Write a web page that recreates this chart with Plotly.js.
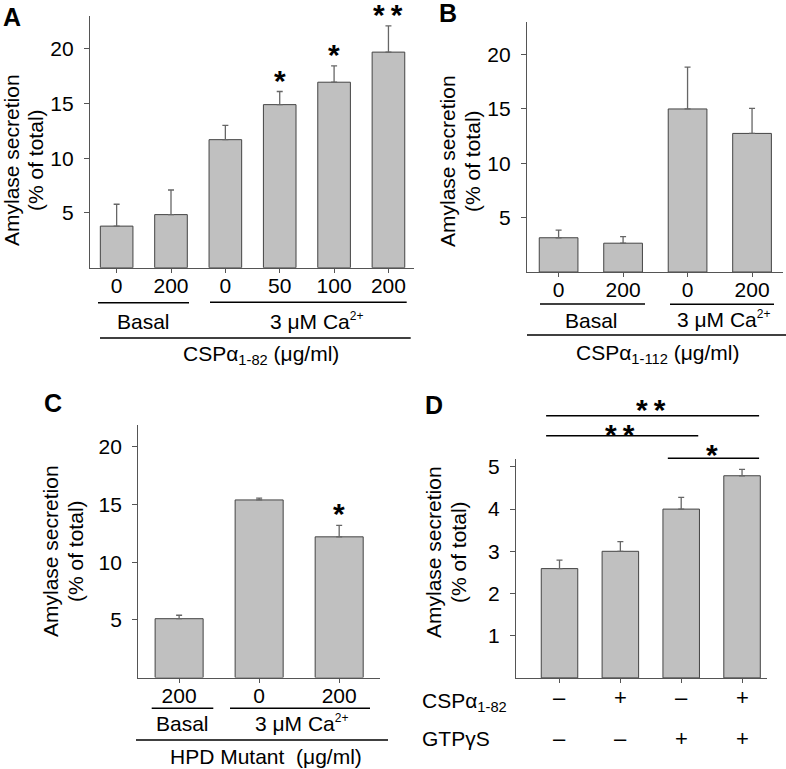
<!DOCTYPE html>
<html>
<head>
<meta charset="utf-8">
<script src="https://cdn.plot.ly/plotly-3.0.1.min.js"></script>
<style>
  html, body { margin: 0; padding: 0; background: #fff; }
  #chart { width: 786px; height: 769px; }
</style>
</head>
<body>
<div id="chart"></div>
<script>
var W = 786, H = 769;
var fam = "Arial, 'Liberation Sans', sans-serif";

// panel A : CSPa 1-82
var aLabels = ["0", "200", "0", "50", "100", "200"];
var aMeans = [3.8, 4.85, 11.7, 14.9, 16.95, 19.7];
var aErrs = [2.0, 2.25, 1.3, 1.2, 1.5, 2.4];
var aStars = ["", "", "", "*", "*", "*\u2009*"];

// panel B : CSPa 1-112
var bLabels = ["0", "200", "0", "200"];
var bMeans = [3.15, 2.65, 15.0, 12.75];
var bErrs = [0.7, 0.6, 3.85, 2.3];

// panel C : HPD mutant
var cLabels = ["200", "0", "200"];
var cMeans = [5.1, 15.4, 12.2];
var cErrs = [0.3, 0.15, 1.0];
var cStars = ["", "", "*"];

// panel D : GTPgS
var dLabels = ["", "", "", ""];
var dMeans = [2.59, 3.0, 4.0, 4.79];
var dErrs = [0.2, 0.23, 0.28, 0.15];
var dCsp = ["\u2013", "+", "\u2013", "+"];
var dGtp = ["\u2013", "\u2013", "+", "+"];
var dPairs = [[0, 3, "*\u2009*"], [0, 2, "*\u2009*"], [2, 3, "*"]];

// pixel -> paper helpers
var fx = function (v) { return v / W; };
var fy = function (v) { return 1 - v / H; };

var axisCol = "#555";

var xAxis = function (x0, x1, range, labels, anchor, showLabels) {
    return {
        domain: [fx(x0), fx(x1)], range: range, anchor: anchor,
        tickvals: labels.map(function (l, i) { return i; }),
        ticktext: labels, showticklabels: showLabels,
        ticks: "outside", ticklen: 4, tickcolor: axisCol, tickwidth: 1,
        showline: true, linecolor: axisCol, linewidth: 1.2,
        showgrid: false, zeroline: false, fixedrange: true,
        tickfont: {size: 21, color: "#000"}, ticklabelstandoff: -5
    };
};
var yAxis = function (y0, y1, range, vals, anchor) {
    return {
        domain: [fy(y1), fy(y0)], range: range, anchor: anchor,
        tickvals: vals, ticks: "outside", ticklen: 5, tickcolor: axisCol, tickwidth: 1,
        showline: true, linecolor: axisCol, linewidth: 1.2,
        showgrid: false, zeroline: false, fixedrange: true,
        tickfont: {size: 21, color: "#000"}, ticklabelstandoff: 6
    };
};

var barTrace = function (means, errs, xa, ya) {
    return {
        type: "bar", x: means.map(function (m, i) { return i; }), y: means,
        xaxis: xa, yaxis: ya, width: 0.6, showlegend: false, hoverinfo: "none",
        marker: {color: "#c0c0c0", line: {color: "#444", width: 1}},
        error_y: {type: "data", symmetric: false, array: errs,
                  arrayminus: errs.map(function () { return 0; }),
                  color: "#666", thickness: 1.3, width: 3}
    };
};

var data = [
    barTrace(aMeans, aErrs, "x", "y"),
    barTrace(bMeans, bErrs, "x2", "y2"),
    barTrace(cMeans, cErrs, "x3", "y3"),
    barTrace(dMeans, dErrs, "x4", "y4")
];

var annotations = [];
var shapes = [];

var text = function (t, x, y, size, extra) {
    var a = {text: t, x: fx(x), y: fy(y), xref: "paper", yref: "paper",
             showarrow: false, xanchor: "center", yanchor: "middle",
             font: {family: fam, size: size, color: "#000"}};
    for (var k in extra) { a[k] = extra[k]; }
    annotations.push(a);
};
var hline = function (x0, x1, y) {
    shapes.push({type: "line", xref: "paper", yref: "paper",
                 x0: fx(x0), x1: fx(x1), y0: fy(y), y1: fy(y),
                 line: {color: "#000", width: 1.6}});
};
var starFont = {family: fam, size: 30, weight: "bold", color: "#000"};
var stars = function (list, means, errs, xa, ya) {
    for (let i = 0; i < list.length; i++) {
        if (list[i] == "") { continue; }
        annotations.push({text: list[i], x: i, y: means[i] + errs[i], xref: xa, yref: ya,
                          showarrow: false, yanchor: "bottom", yshift: -7, font: starFont});
    }
};

// panel letters
var letterFont = {family: fam, size: 25, weight: "bold", color: "#000"};
text("A", 12, 17, 25, {font: letterFont});
text("B", 448, 13, 25, {font: letterFont});
text("C", 53, 403, 25, {font: letterFont});
text("D", 434, 405, 25, {font: letterFont});

// y titles, one annotation per line
var ytitle = function (x1, x2, y) {
    text("Amylase secretion", x1, y, 21, {textangle: -90});
    text("(% of total)", x2, y, 21, {textangle: -90});
};
ytitle(11, 35, 160);
ytitle(447, 472, 161);
ytitle(50, 75, 551);
ytitle(433, 458, 552);

var ca = "3 \u03bcM Ca<sup><span style='font-size:12px'>2+</span></sup>";

// panel A groups
hline(98, 189, 302.7);
hline(210, 406.7, 302.3);
hline(100, 410.7, 338);
text("Basal", 143, 321.5, 21);
text(ca, 316, 320.5, 21);
text("CSP\u03b1<sub>1-82</sub> (\u03bcg/ml)", 261, 355, 21);
stars(aStars, aMeans, aErrs, "x", "y");

// panel B groups
hline(540, 645, 304);
hline(670, 774, 304.3);
hline(527, 786, 335);
text("Basal", 591.7, 320, 21);
text(ca, 723, 319, 21);
text("CSP\u03b1<sub>1-112</sub> (\u03bcg/ml)", 657, 354, 21);

// panel C groups
hline(151.7, 213.3, 708.3);
hline(230, 370, 708.3);
hline(136, 388, 740);
text("Basal", 182.5, 723.5, 21);
text(ca, 301.7, 723, 21);
text("HPD Mutant\u00a0\u00a0(\u03bcg/ml)", 265.8, 756.7, 21);
stars(cStars, cMeans, cErrs, "x3", "y3");

// panel D condition rows
text("CSP\u03b1<sub>1-82</sub>", 420, 702, 21, {xanchor: "left"});
text("GTP\u03b3S", 420, 738.5, 21, {xanchor: "left"});
for (let i = 0; i < dCsp.length; i++) {
    annotations.push({text: dCsp[i], x: i, y: fy(697), xref: "x4", yref: "paper",
                      showarrow: false, yanchor: "middle", font: {family: fam, size: 22, color: "#000"}});
    annotations.push({text: dGtp[i], x: i, y: fy(738.5), xref: "x4", yref: "paper",
                      showarrow: false, yanchor: "middle", font: {family: fam, size: 22, color: "#000"}});
}
// D significance brackets
var pairLineY = [415.7, 435.7, 458.3];
var pairStarY = [402.5, 427.7, 447];
for (let k = 0; k < dPairs.length; k++) {
    var p = dPairs[k];
    shapes.push({type: "line", xref: "x4", yref: "paper", x0: p[0] - 0.22, x1: p[1] + 0.28,
                 y0: fy(pairLineY[k]), y1: fy(pairLineY[k]), line: {color: "#000", width: 1.6}});
    annotations.push({text: p[2], x: (p[0] + p[1]) / 2, y: fy(pairStarY[k] + 7),
                      xref: "x4", yref: "paper", showarrow: false, yanchor: "middle", font: starFont});
}

var layout = {
    width: W, height: H,
    margin: {l: 0, r: 0, t: 0, b: 0},
    paper_bgcolor: "#fff", plot_bgcolor: "#fff",
    font: {family: fam, size: 21, color: "#000"},
    showlegend: false,
    bargap: 0,
    xaxis: xAxis(90, 414, [-0.49, 5.47], aLabels, "y", true),
    yaxis: yAxis(16, 267.7, [0, 23], [5, 10, 15, 20], "x"),
    xaxis2: xAxis(527, 783, [-0.49, 3.48], bLabels, "y2", true),
    yaxis2: yAxis(22, 272, [0, 23], [5, 10, 15, 20], "x2"),
    xaxis3: xAxis(138.3, 380, [-0.51, 2.51], cLabels, "y3", true),
    yaxis3: yAxis(425, 677.5, [0, 21.9], [5, 10, 15, 20], "x3"),
    xaxis4: xAxis(516, 767, [-0.715, 3.41], dLabels, "y4", false),
    yaxis4: yAxis(459.3, 677.9, [0, 5.18], [1, 2, 3, 4, 5], "x4"),
    annotations: annotations,
    shapes: shapes
};

Plotly.newPlot("chart", data, layout, {staticPlot: true, displayModeBar: false});
</script>
</body>
</html>
